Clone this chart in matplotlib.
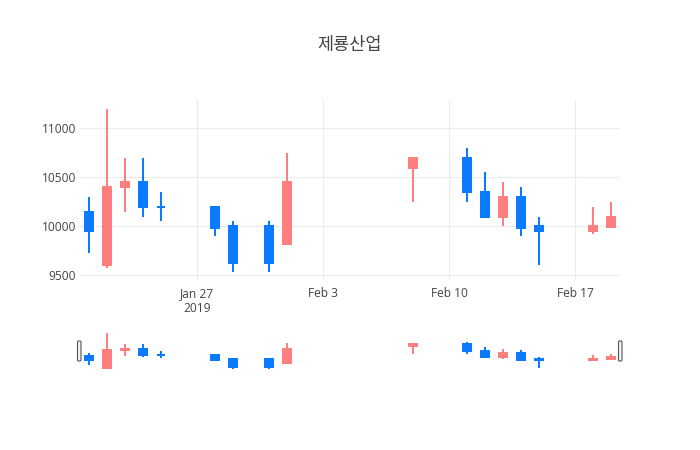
import numpy as np
import pandas as pd
import matplotlib
matplotlib.use('Agg')
import matplotlib.pyplot as plt
import matplotlib.dates as mdates
from matplotlib.patches import FancyBboxPatch
from matplotlib.transforms import IdentityTransform

#daily prices
dates = ['2019-01-21', '2019-01-22', '2019-01-23', '2019-01-24', '2019-01-25',
         '2019-01-28', '2019-01-29', '2019-01-31', '2019-02-01', '2019-02-08',
         '2019-02-11', '2019-02-12', '2019-02-13', '2019-02-14', '2019-02-15',
         '2019-02-18', '2019-02-19']
opens = [10150, 9600, 10400, 10450, 10200, 10200, 10000, 10000, 9820, 10600,
         10700, 10350, 10100, 10300, 10000, 9950, 9990]
highs = [10300, 11200, 10700, 10700, 10350, 10200, 10050, 10050, 10750, 10700,
         10800, 10550, 10450, 10400, 10100, 10200, 10250]
lows = [9730, 9570, 10150, 10100, 10050, 9900, 9530, 9530, 9820, 10250,
        10250, 10100, 10000, 9900, 9610, 9920, 9980]
closes = [9950, 10400, 10450, 10200, 10200, 9980, 9630, 9630, 10450, 10700,
          10350, 10100, 10300, 9980, 9950, 10000, 10100]

title = '제룡산업'
tick_dates = ['2019-01-27', '2019-02-03', '2019-02-10', '2019-02-17']
tick_labels = ['Jan 27\n2019', 'Feb 3', 'Feb 10', 'Feb 17']
y_ticks = [9500, 10000, 10500, 11000]

up_color = '#FF7F7F'
down_color = '#0A7BFF'
text_color = '#444444'
grid_color = '#EBEBEB'

x = mdates.date2num(pd.to_datetime(dates))
o = np.array(opens)
h = np.array(highs)
l = np.array(lows)
c = np.array(closes)
colors = [up_color if cc > oo else down_color for oo, cc in zip(o, c)]

W, H = 700, 450
fig = plt.figure(figsize=(7, 4.5), dpi=100)
ax = fig.add_axes([80 / W, (H - 280) / H, 540 / W, 180 / H])
ax_sl = fig.add_axes([80 / W, (H - 371) / H, 540 / W, 40 / H])

xmin = mdates.date2num(pd.Timestamp('2019-01-20 12:00'))
xmax = mdates.date2num(pd.Timestamp('2019-02-19 12:00'))
lw = 1.44
body_w = 0.47


def draw_candles(a):
    a.vlines(x, l, h, colors=colors, linewidth=lw, zorder=3)
    a.bar(x, np.abs(c - o), bottom=np.minimum(o, c), width=body_w,
          color=colors, edgecolor=colors, linewidth=lw, zorder=4)


draw_candles(ax)
ax.set_xlim(xmin, xmax)
ax.set_ylim(9452, 11289)
ax.set_yticks(y_ticks)
ax.set_yticklabels([str(v) for v in y_ticks])
ax.set_xticks(mdates.date2num(pd.to_datetime(tick_dates)))
ax.set_xticklabels(tick_labels, linespacing=1.25)
ax.grid(True, color=grid_color, linewidth=0.75, zorder=0)
ax.set_axisbelow(True)
for s in ax.spines.values():
    s.set_visible(False)
ax.tick_params(length=0, labelsize=8.64, labelcolor=text_color)
ax.tick_params(axis='y', pad=3)
ax.tick_params(axis='x', pad=5)
for t in ax.get_xticklabels() + ax.get_yticklabels():
    t.set_fontfamily('Open Sans')

#range slider copy of the same candles
draw_candles(ax_sl)
ax_sl.set_xlim(xmin, xmax)
ax_sl.set_ylim(9452, 11289)
ax_sl.set_xticks([])
ax_sl.set_yticks([])
for s in ax_sl.spines.values():
    s.set_visible(False)

for hx in [77.5, 618.5]:
    fig.add_artist(FancyBboxPatch((hx, H - 361), 3.5, 20,
                                  boxstyle='round,pad=0,rounding_size=1.2',
                                  facecolor='#F4F4F4', edgecolor='#555555',
                                  linewidth=0.8, transform=IdentityTransform()))

fig.text(0.5, 1 - 45 / H, title, ha='center', va='center', fontsize=12.6,
         color=text_color, family=['Noto Sans CJK KR', 'DejaVu Sans'])

fig.savefig('out.png', dpi=100)
